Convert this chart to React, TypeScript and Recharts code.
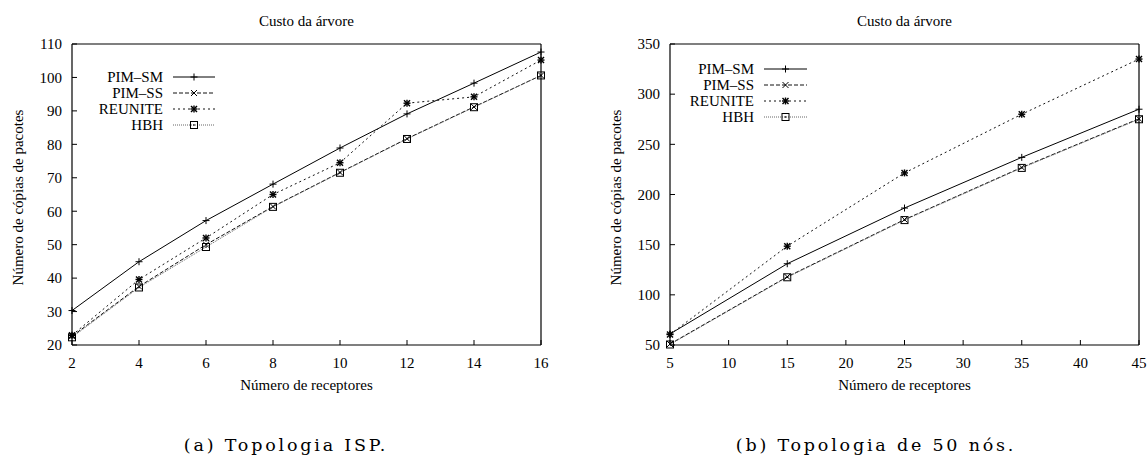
import * as React from "react"
import { LineChart, Line, XAxis, YAxis, Legend } from "recharts"

// (a) Topologia ISP
const ispReceivers = [2, 4, 6, 8, 10, 12, 14, 16]
const ispPimSm = [30.3, 44.9, 57.2, 68.1, 78.9, 89.1, 98.3, 107.6]
const ispPimSs = [22.6, 37.5, 50.0, 61.4, 71.6, 81.7, 91.2, 100.6]
const ispReunite = [22.9, 39.6, 52.0, 65.0, 74.5, 92.3, 94.2, 105.2]
const ispHbh = [22.3, 37.2, 49.3, 61.3, 71.5, 81.6, 91.1, 100.6]
const ispYTicks = [20, 30, 40, 50, 60, 70, 80, 90, 100, 110]

// (b) Topologia de 50 nós
const netReceivers = [5, 15, 25, 35, 45]
const netPimSm = [61, 131, 186.5, 237, 285]
const netPimSs = [51, 118, 175, 227, 275.5]
const netReunite = [60.5, 148.5, 221.5, 280, 335]
const netHbh = [50.5, 117.5, 174.5, 226.5, 275]
const netXTicks = [5, 10, 15, 20, 25, 30, 35, 40, 45]
const netYTicks = [50, 100, 150, 200, 250, 300, 350]

const seriesNames = ["PIM–SM", "PIM–SS", "REUNITE", "HBH"]

type MarkerKind = "plus" | "cross" | "star" | "square"

const seriesStyles: Record<string, { key: string; kind: MarkerKind; dash?: string; color: string }> = {
  "PIM–SM": { key: "pimSm", kind: "plus", color: "#000" },
  "PIM–SS": { key: "pimSs", kind: "cross", dash: "4 2", color: "#111" },
  REUNITE: { key: "reunite", kind: "star", dash: "2 3", color: "#111" },
  HBH: { key: "hbh", kind: "square", dash: "1 1", color: "#666" },
}

const FONT = "Liberation Serif"

function Marker({ kind, cx, cy }: { kind: MarkerKind; cx: number; cy: number }) {
  const s = 3.5
  const st = { stroke: "#000", strokeWidth: 1 }
  if (kind === "plus")
    return (
      <g>
        <line x1={cx - s} x2={cx + s} y1={cy} y2={cy} {...st} />
        <line x1={cx} x2={cx} y1={cy - s} y2={cy + s} {...st} />
      </g>
    )
  if (kind === "cross")
    return (
      <g>
        <line x1={cx - 3} x2={cx + 3} y1={cy - 3} y2={cy + 3} {...st} />
        <line x1={cx - 3} x2={cx + 3} y1={cy + 3} y2={cy - 3} {...st} />
      </g>
    )
  if (kind === "star")
    return (
      <g>
        <line x1={cx - s} x2={cx + s} y1={cy} y2={cy} {...st} strokeWidth={1.4} />
        <line x1={cx} x2={cx} y1={cy - s} y2={cy + s} {...st} strokeWidth={1.4} />
        <line x1={cx - 3} x2={cx + 3} y1={cy - 3} y2={cy + 3} {...st} strokeWidth={1.4} />
        <line x1={cx - 3} x2={cx + 3} y1={cy + 3} y2={cy - 3} {...st} strokeWidth={1.4} />
      </g>
    )
  return (
    <g>
      <rect x={cx - 3.5} y={cy - 3.5} width={7} height={7} fill="none" {...st} />
      <rect x={cx - 0.7} y={cy - 0.7} width={1.4} height={1.4} fill="#000" />
    </g>
  )
}

function XTick({ x, y, payload }: any) {
  return (
    <text x={x} y={y} dy="0.71em" textAnchor="middle" style={{ fontFamily: FONT, fontSize: 15 }} fill="#000">
      {payload.value}
    </text>
  )
}

function YTick({ x, y, payload }: any) {
  return (
    <text x={x} y={y} dy="0.355em" textAnchor="end" style={{ fontFamily: FONT, fontSize: 15 }} fill="#000">
      {payload.value}
    </text>
  )
}

// legend keeps the plot order (PIM-SM, PIM-SS, REUNITE, HBH)
function LegendBox({ textWidth, lineWidth }: { textWidth: number; lineWidth: number }) {
  return (
    <div style={{ fontFamily: FONT, fontSize: 15, color: "#000" }}>
      {seriesNames.map((name) => {
        const st = seriesStyles[name]
        return (
          <div key={name} style={{ display: "flex", alignItems: "center", height: 16 }}>
            <span style={{ width: textWidth, textAlign: "right", lineHeight: "16px" }}>{name}</span>
            <svg width={lineWidth + 10} height={16}>
              <line x1={10} x2={10 + lineWidth} y1={8} y2={8} stroke={st.color} strokeDasharray={st.dash} strokeWidth={1} />
              <Marker kind={st.kind} cx={10 + lineWidth / 2} cy={8} />
            </svg>
          </div>
        )
      })}
    </div>
  )
}

type PanelProps = {
  left: number
  width: number
  plotLeft: number
  plotRight: number
  receivers: number[]
  series: number[][]
  xTicks: number[]
  yTicks: number[]
  legendLeft: number
  legendTop: number
  legendTextWidth: number
  legendLineWidth: number
}

function Panel(p: PanelProps) {
  const data = p.receivers.map((r, i) => ({
    r,
    pimSm: p.series[0][i],
    pimSs: p.series[1][i],
    reunite: p.series[2][i],
    hbh: p.series[3][i],
  }))
  const height = 400
  const plotTop = 44
  const plotBottom = 345
  const xDomain = [p.xTicks[0], p.xTicks[p.xTicks.length - 1]]
  const yDomain = [p.yTicks[0], p.yTicks[p.yTicks.length - 1]]
  const axisLine = { stroke: "#000", strokeWidth: 1.2 }
  const center = (p.plotLeft + p.plotRight) / 2
  return (
    <div style={{ position: "absolute", left: p.left, top: 0, width: p.width, height, fontFamily: FONT }}>
      <LineChart
        width={p.width}
        height={height}
        data={data}
        margin={{ top: plotTop, right: p.width - p.plotRight, bottom: height - plotBottom - 30, left: 0 }}
      >
        <XAxis
          dataKey="r"
          type="number"
          domain={xDomain}
          ticks={p.xTicks}
          height={30}
          tickSize={-5}
          tickMargin={17}
          tick={<XTick />}
          axisLine={axisLine}
          tickLine={{ stroke: "#000" }}
          interval={0}
        />
        <XAxis
          xAxisId="top"
          dataKey="r"
          type="number"
          orientation="top"
          mirror
          domain={xDomain}
          ticks={p.xTicks}
          tick={false}
          tickSize={5}
          axisLine={axisLine}
          tickLine={{ stroke: "#000" }}
          interval={0}
        />
        <YAxis
          type="number"
          domain={yDomain}
          ticks={p.yTicks}
          width={p.plotLeft}
          tickSize={-5}
          tickMargin={15}
          tick={<YTick />}
          axisLine={axisLine}
          tickLine={{ stroke: "#000" }}
          interval={0}
        />
        <YAxis
          yAxisId="right"
          type="number"
          orientation="right"
          mirror
          domain={yDomain}
          ticks={p.yTicks}
          tick={false}
          tickSize={5}
          axisLine={axisLine}
          tickLine={{ stroke: "#000" }}
          interval={0}
        />
        <Legend
          layout="vertical"
          align="center"
          verticalAlign="middle"
          wrapperStyle={{ position: "absolute", left: p.legendLeft, top: p.legendTop, width: "auto" }}
          content={() => <LegendBox textWidth={p.legendTextWidth} lineWidth={p.legendLineWidth} />}
        />
        {seriesNames.map((name) => {
          const st = seriesStyles[name]
          return (
            <Line
              key={name}
              name={name}
              dataKey={st.key}
              type="linear"
              stroke={st.color}
              strokeWidth={1}
              strokeDasharray={st.dash}
              dot={(d: any) => <Marker key={`${st.key}-${d.index}`} kind={st.kind} cx={d.cx} cy={d.cy} />}
              activeDot={false}
              isAnimationActive={false}
            />
          )
        })}
      </LineChart>
      <div
        style={{
          position: "absolute", left: center - 150, width: 300, top: 13.5, textAlign: "center",
          fontFamily: FONT, fontSize: 15, lineHeight: "15px",
        }}
      >
        Custo da árvore
      </div>
      <div
        style={{
          position: "absolute", left: center - 150, width: 300, top: 378, textAlign: "center",
          fontFamily: FONT, fontSize: 15, lineHeight: "15px",
        }}
      >
        Número de receptores
      </div>
      <div
        style={{
          position: "absolute", left: p.plotLeft - 54 - 130, width: 260, top: 197 - 7.5, textAlign: "center",
          fontFamily: FONT, fontSize: 15, lineHeight: "15px", transform: "rotate(-90deg)",
        }}
      >
        Número de cópias de pacotes
      </div>
    </div>
  )
}

const captionStyle: React.CSSProperties = {
  position: "absolute",
  top: 435,
  width: 400,
  textAlign: "center",
  fontFamily: "'DejaVu Serif', serif",
  fontSize: 17.5,
  lineHeight: "20px",
  letterSpacing: 2.8,
  color: "#000",
}

export default function App() {
  return (
    <div style={{ position: "absolute", left: 0, top: 0, width: 1148, height: 461, background: "#fff", overflow: "hidden" }}>
      <Panel
        left={0}
        width={560}
        plotLeft={72}
        plotRight={541}
        receivers={ispReceivers}
        series={[ispPimSm, ispPimSs, ispReunite, ispHbh]}
        xTicks={ispReceivers}
        yTicks={ispYTicks}
        legendLeft={90}
        legendTop={69}
        legendTextWidth={73}
        legendLineWidth={42}
      />
      <Panel
        left={580}
        width={568}
        plotLeft={90}
        plotRight={559}
        receivers={netReceivers}
        series={[netPimSm, netPimSs, netReunite, netHbh]}
        xTicks={netXTicks}
        yTicks={netYTicks}
        legendLeft={100}
        legendTop={61}
        legendTextWidth={74}
        legendLineWidth={43}
      />
      <div style={{ ...captionStyle, left: 286 - 200 }}>(a) Topologia ISP.</div>
      <div style={{ ...captionStyle, left: 876 - 200 }}>(b) Topologia de 50 nós.</div>
    </div>
  )
}
